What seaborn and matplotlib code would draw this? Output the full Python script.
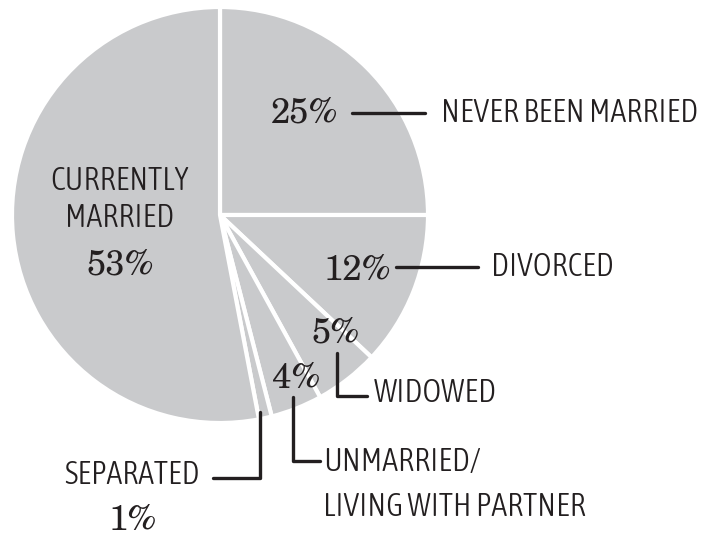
import matplotlib
matplotlib.use("Agg")
import matplotlib.pyplot as plt
import seaborn as sns

# marital status shares (clockwise from 12 o'clock)
categories = ["NEVER BEEN MARRIED", "DIVORCED", "WIDOWED",
              "UNMARRIED/\nLIVING WITH PARTNER", "SEPARATED", "CURRENTLY\nMARRIED"]
shares = [25, 12, 5, 4, 1, 53]
pct_labels = ["25%", "12%", "5%", "4%", "1%", "53%"]

sns.set_theme(style="white")
ink = "#231f20"
gray = "#c9cacc"
serif = ["TeX Gyre Schola", "C059", "Century Schoolbook L", "Liberation Serif", "DejaVu Serif"]
sans = ["Asap Condensed", "Barlow Semi Condensed", "DejaVu Sans"]

fig = plt.figure(figsize=(7.12, 5.35), dpi=100)
ax = fig.add_axes([0, 0, 1, 1])

H = 535


def Y(y):
    # pixel row -> data y
    return H - y


ax.pie(shares, colors=[gray] * len(shares), startangle=90, counterclock=False,
       center=(220, Y(215)), radius=208,
       wedgeprops=dict(edgecolor="white", linewidth=3))
ax.set_xlim(0, 712)
ax.set_ylim(0, 535)
ax.set_aspect("equal")
ax.axis("off")

lw = 2.4
pct_size = 25
lab_size = 23
lab_kw = dict(family=sans, fontsize=lab_size, fontweight=300, color=ink, va="center")
pct_kw = dict(family=serif, fontsize=pct_size, color=ink, ha="center", va="center")

# never been married
ax.text(305, Y(113), pct_labels[0], **pct_kw)
ax.plot([352, 425], [Y(113), Y(113)], color=ink, lw=lw)
ax.text(441, Y(113), categories[0], ha="left", **lab_kw)

# divorced
ax.text(357, Y(270), pct_labels[1], **pct_kw)
ax.plot([396, 478], [Y(267), Y(267)], color=ink, lw=lw)
ax.text(491, Y(268), categories[1], ha="left", **lab_kw)

# widowed
ax.text(336, Y(333), pct_labels[2], **pct_kw)
ax.plot([337, 337, 367], [Y(353), Y(396), Y(396)], color=ink, lw=lw)
ax.text(374, Y(394), categories[2], ha="left", **lab_kw)

# unmarried / living with partner
ax.text(296, Y(378), pct_labels[3], **pct_kw)
ax.plot([293, 293, 320], [Y(397), Y(461), Y(461)], color=ink, lw=lw)
ax.text(323, Y(485), categories[3], ha="left", linespacing=1.55, **lab_kw)

# separated
ax.plot([260, 260, 213], [Y(412), Y(478), Y(478)], color=ink, lw=lw)
ax.text(200, Y(475), categories[4], ha="right", **lab_kw)
ax.text(133, Y(520), pct_labels[4], **pct_kw)

# currently married
ax.text(120, Y(200), categories[5], ha="center", linespacing=1.25, **lab_kw)
ax.text(120, Y(265), pct_labels[5], **pct_kw)

fig.savefig("out.png", dpi=100, facecolor="white")
